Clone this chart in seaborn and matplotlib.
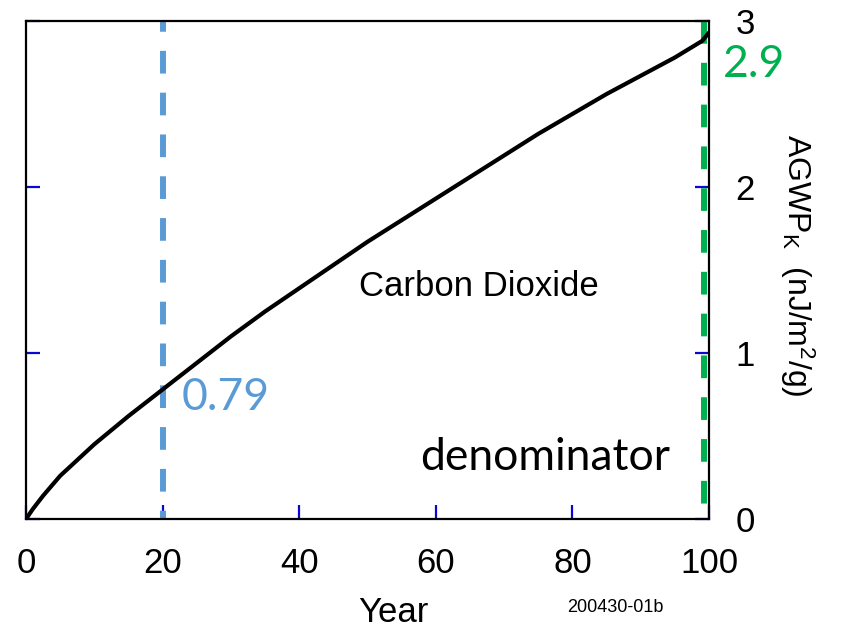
import matplotlib
matplotlib.use("Agg")
import matplotlib.pyplot as plt
import seaborn as sns
import pandas as pd

# AGWP of CO2 (nJ/m2/g)
years = [0, 1, 2.5, 5, 10, 15, 20, 25, 30, 35, 40, 45, 50, 55, 60,
         65, 70, 75, 80, 85, 90, 95, 99, 100]
agwp = [0.0, 0.06, 0.14, 0.26, 0.45, 0.62, 0.78, 0.94, 1.10, 1.25, 1.39,
        1.53, 1.67, 1.80, 1.93, 2.06, 2.19, 2.32, 2.44, 2.56, 2.67, 2.78,
        2.88, 2.93]

x_ticks = [0, 20, 40, 60, 80, 100]
y_ticks = [0, 1, 2, 3]
horizon_20 = 20
horizon_100 = 99.2
label_20 = "0.79"
label_100 = "2.9"

BLUE = "#5B9BD5"
GREEN = "#00B050"
TICK_BLUE = "#0808D0"

sns.set_style("white")
plt.rcParams["font.family"] = ["Liberation Sans", "DejaVu Sans"]
plt.rcParams["mathtext.default"] = "regular"
plt.rcParams["text.color"] = "black"
plt.rcParams["axes.labelcolor"] = "black"

df = pd.DataFrame({"Year": years, "AGWP": agwp})

fig = plt.figure(figsize=(8.52, 6.36), dpi=100)
ax = fig.add_axes([26 / 852, 117 / 636, 683 / 852, 498 / 636])

sns.lineplot(data=df, x="Year", y="AGWP", ax=ax, color="black", linewidth=3.0)

# time-horizon markers
ax.vlines(horizon_20, y_ticks[-1], y_ticks[0], color=BLUE, linewidth=4.3,
          linestyles=(2, (3.8, 3.2)), zorder=1)
ax.vlines(horizon_100, y_ticks[-1], y_ticks[0], color=GREEN, linewidth=4.3,
          linestyles=(0, (3.8, 3.2)), zorder=1)

ax.set_xlim(x_ticks[0], x_ticks[-1])
ax.set_ylim(y_ticks[0], y_ticks[-1])
ax.set_xticks(x_ticks)
ax.set_yticks(y_ticks)
ax.set_xlabel("")
ax.set_ylabel("")

for s in ax.spines.values():
    s.set_visible(True)
    s.set_color("black")
    s.set_linewidth(1.6)

ax.tick_params(axis="both", direction="in", length=10, width=1.6,
               color=TICK_BLUE, labelsize=25, labelcolor="black")
ax.tick_params(axis="x", bottom=True, top=False, pad=20)
ax.tick_params(axis="y", left=True, right=True, labelleft=False,
               labelright=True, pad=19)

calibri = ["Lato", "DejaVu Sans"]
ax.text(22.8, 0.657, label_20, color=BLUE, fontsize=32, family=calibri,
        ha="left", va="baseline")
ax.text(102, 2.66, label_100, color=GREEN, fontsize=32, family=calibri,
        ha="left", va="baseline", clip_on=False)
ax.text(57.7, 0.295, "denominator", color="black", fontsize=32,
        family=calibri, ha="left", va="baseline")
ax.text(48.8, 1.343, "Carbon Dioxide", color="black", fontsize=25,
        ha="left", va="baseline")

fig.text(797 / 852, 1 - 265 / 636, r"AGWP$_{K}$  (nJ/m$^{2}$/g)",
         rotation=270, fontsize=23, ha="center", va="center")
fig.text(393 / 852, 1 - 613 / 636, "Year", fontsize=25,
         ha="center", va="center")
fig.text(615 / 852, 1 - 607 / 636, "200430-01b", fontsize=13,
         ha="center", va="center")

fig.savefig("out.png", dpi=100)
